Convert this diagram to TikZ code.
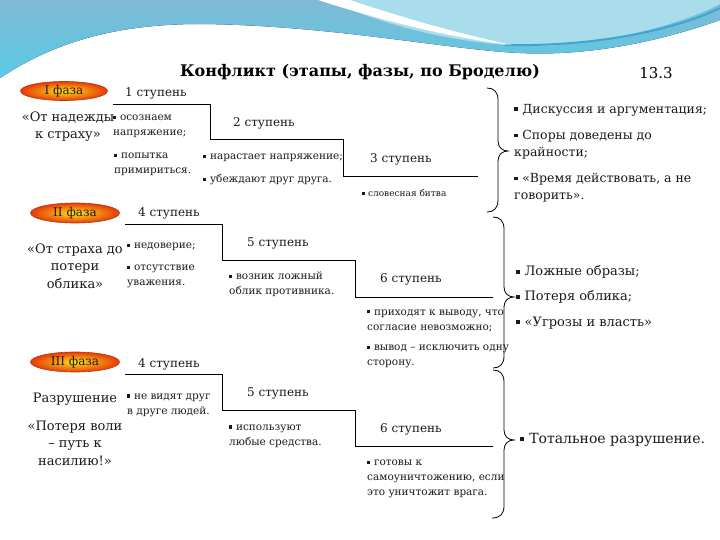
\documentclass[tikz,border=0pt]{standalone}
\usepackage{fontspec}
\setmainfont{DejaVu Serif}
\usetikzlibrary{shapes.geometric}
\definecolor{txt}{HTML}{1A1A1A}
\definecolor{wavetop}{HTML}{7FB9D5}
\definecolor{wavebot}{HTML}{58CBE6}
\definecolor{bubble}{HTML}{A9DDEB}
\definecolor{waveedge}{HTML}{3CA5D0}
\definecolor{phin}{HTML}{FFE21A}
\definecolor{phout}{HTML}{E63A0A}
\definecolor{phline}{HTML}{B8360E}
\newcommand\mybul{\raisebox{0.3ex}{\rule{0.3em}{0.3em}}\hspace{0.35em}}
\tikzset{
  phase/.style={ellipse, draw=phline, line width=0.6pt, inner color=phin, outer color=phout,
    minimum width=89pt, minimum height=20pt, inner sep=0pt, text=txt, font=\fontsize{12}{14}\selectfont},
  stepname/.style={anchor=west, inner sep=0pt, text=txt, font=\fontsize{12}{14}\selectfont},
  lefttxt/.style={align=center, inner sep=0pt, text=txt, font=\fontsize{13}{17.5}\selectfont},
  small/.style={anchor=west, align=left, inner sep=0pt, text=txt, font=\fontsize{10.5}{15}\selectfont},
  tiny/.style={anchor=west, align=left, inner sep=0pt, text=txt, font=\fontsize{9}{12}\selectfont},
  righttxt/.style={anchor=west, align=left, inner sep=0pt, text=txt, font=\fontsize{12.5}{17}\selectfont},
  stair/.style={draw=black, line width=0.8pt},
  bracestyle/.style={draw=black, line width=0.8pt}
}
\begin{document}
\begin{tikzpicture}[x=1pt,y=-1pt]
\useasboundingbox (0,0) rectangle (720,540);
\fill[white] (0,0) rectangle (720,540);
% header wave
\fill[top color=wavetop, bottom color=wavebot] (0,0) -- (720,0) -- (720,20)
  .. controls (650,45) and (580,56) .. (520,53)
  .. controls (450,50) and (330,25) .. (200,24)
  .. controls (110,24) and (50,45) .. (0,78) -- cycle;
\fill[bubble] (330,0) .. controls (380,25) and (460,45) .. (530,46)
  .. controls (600,46) and (680,25) .. (720,4) -- (720,0) -- cycle;
\draw[waveedge, line width=2pt] (505,45) .. controls (600,47) and (680,28) .. (720,8);
\fill[white] (318,0) .. controls (380,20) and (450,38) .. (512,45)
  .. controls (450,32) and (385,12) .. (350,0) -- cycle;
% title
\node[inner sep=0pt, font=\bfseries\fontsize{16}{18}\selectfont] (title) at (360,72) {Конфликт (этапы, фазы, по Броделю)};
\node[inner sep=0pt, font=\fontsize{15}{18}\selectfont] (num) at (656,73) {13.3};

% ---- phase I ----
\node[phase, minimum width=87pt, minimum height=19pt] (p1) at (64,91) {I фаза};
\node[stepname] (s1) at (125,93) {1 ступень};
\draw[stair] (113,104) -- (210,104) -- (210,139) -- (343,139) -- (343,176) -- (478,176);
\node[lefttxt] (l1) at (68,126.5) {«От надежды\\к страху»};
\node[small] (a1) at (113,126.5) {\mybul осознаем\\напряжение;};
\node[small] (a2) at (114,164.5) {\mybul попытка\\примириться.};
\node[stepname] (s2) at (233,123) {2 ступень};
\node[small] (b1) at (203,158) {\mybul нарастает напряжение;};
\node[small] (b2) at (203,180) {\mybul убеждают друг друга.};
\node[stepname] (s3) at (370,159) {3 ступень};
\node[tiny] (c1) at (362,193) {\mybul словесная битва};
\draw[bracestyle] (487,88) .. controls (494,88) and (498,92) .. (498,100) -- (498,141)
  .. controls (498,147) and (502,151) .. (508,151)
  .. controls (502,151) and (498,155) .. (498,161) -- (498,200)
  .. controls (498,208) and (494,212) .. (487,212);
\node[righttxt] (r1) at (514,110) {\mybul Дискуссия и аргументация;};
\node[righttxt] (r2) at (514,144.5) {\mybul Споры доведены до\\крайности;};
\node[righttxt] (r3) at (514,187.5) {\mybul «Время действовать, а не\\говорить».};

% ---- phase II ----
\node[phase] (p2) at (75,213) {II фаза};
\node[stepname] (s4) at (138,213) {4 ступень};
\draw[stair] (125,224) -- (222,224) -- (222,260) -- (355,260) -- (355,297) -- (493,297);
\node[lefttxt] (l2) at (75,266) {«От страха до\\потери\\облика»};
\node[small] (d1) at (127,247) {\mybul недоверие;};
\node[small] (d2) at (127,276.5) {\mybul отсутствие\\уважения.};
\node[stepname] (s5) at (247,243) {5 ступень};
\node[small] (e1) at (229,284.5) {\mybul возник ложный\\облик противника.};
\node[stepname] (s6) at (380,279) {6 ступень};
\node[small] (f1) at (367,320.5) {\mybul приходят к выводу, что\\согласие невозможно;};
\node[small] (f2) at (367,356.5) {\mybul вывод – исключить одну\\сторону.};
\draw[bracestyle] (493,217) .. controls (500,217) and (504,221) .. (504,229) -- (504,287)
  .. controls (504,293) and (508,297) .. (514,297)
  .. controls (508,297) and (504,301) .. (504,307) -- (504,356)
  .. controls (504,364) and (500,368) .. (493,368);
\node[righttxt, font=\fontsize{13}{17}\selectfont] (r4) at (516,272) {\mybul Ложные образы;};
\node[righttxt, font=\fontsize{13}{17}\selectfont] (r5) at (516,297) {\mybul Потеря облика;};
\node[righttxt, font=\fontsize{13}{17}\selectfont] (r6) at (516,323) {\mybul «Угрозы и власть»};

% ---- phase III ----
\node[phase] (p3) at (75,362) {III фаза};
\node[stepname] (s7) at (138,364) {4 ступень};
\draw[stair] (125,374) -- (222,374) -- (222,410) -- (355,410) -- (355,446) -- (493,446);
\node[lefttxt] (l3) at (75,399) {Разрушение};
\node[lefttxt] (l4) at (75,443) {«Потеря воли\\– путь к\\насилию!»};
\node[small] (g1) at (127,405) {\mybul не видят друг\\в друге людей.};
\node[stepname] (s8) at (247,393) {5 ступень};
\node[small] (h1) at (229,436) {\mybul используют\\любые средства.};
\node[stepname] (s9) at (380,429) {6 ступень};
\node[small] (i1) at (367,479) {\mybul готовы к\\самоуничтожению, если\\это уничтожит врага.};
\draw[bracestyle] (493,370) .. controls (500,370) and (504,374) .. (504,382) -- (504,430)
  .. controls (504,436) and (508,440) .. (514,440)
  .. controls (508,440) and (504,444) .. (504,450) -- (504,506)
  .. controls (504,514) and (500,518) .. (492,518);
\node[righttxt, font=\fontsize{14}{17}\selectfont] (r7) at (520,440) {\mybul Тотальное разрушение.};
\end{tikzpicture}
\end{document}
